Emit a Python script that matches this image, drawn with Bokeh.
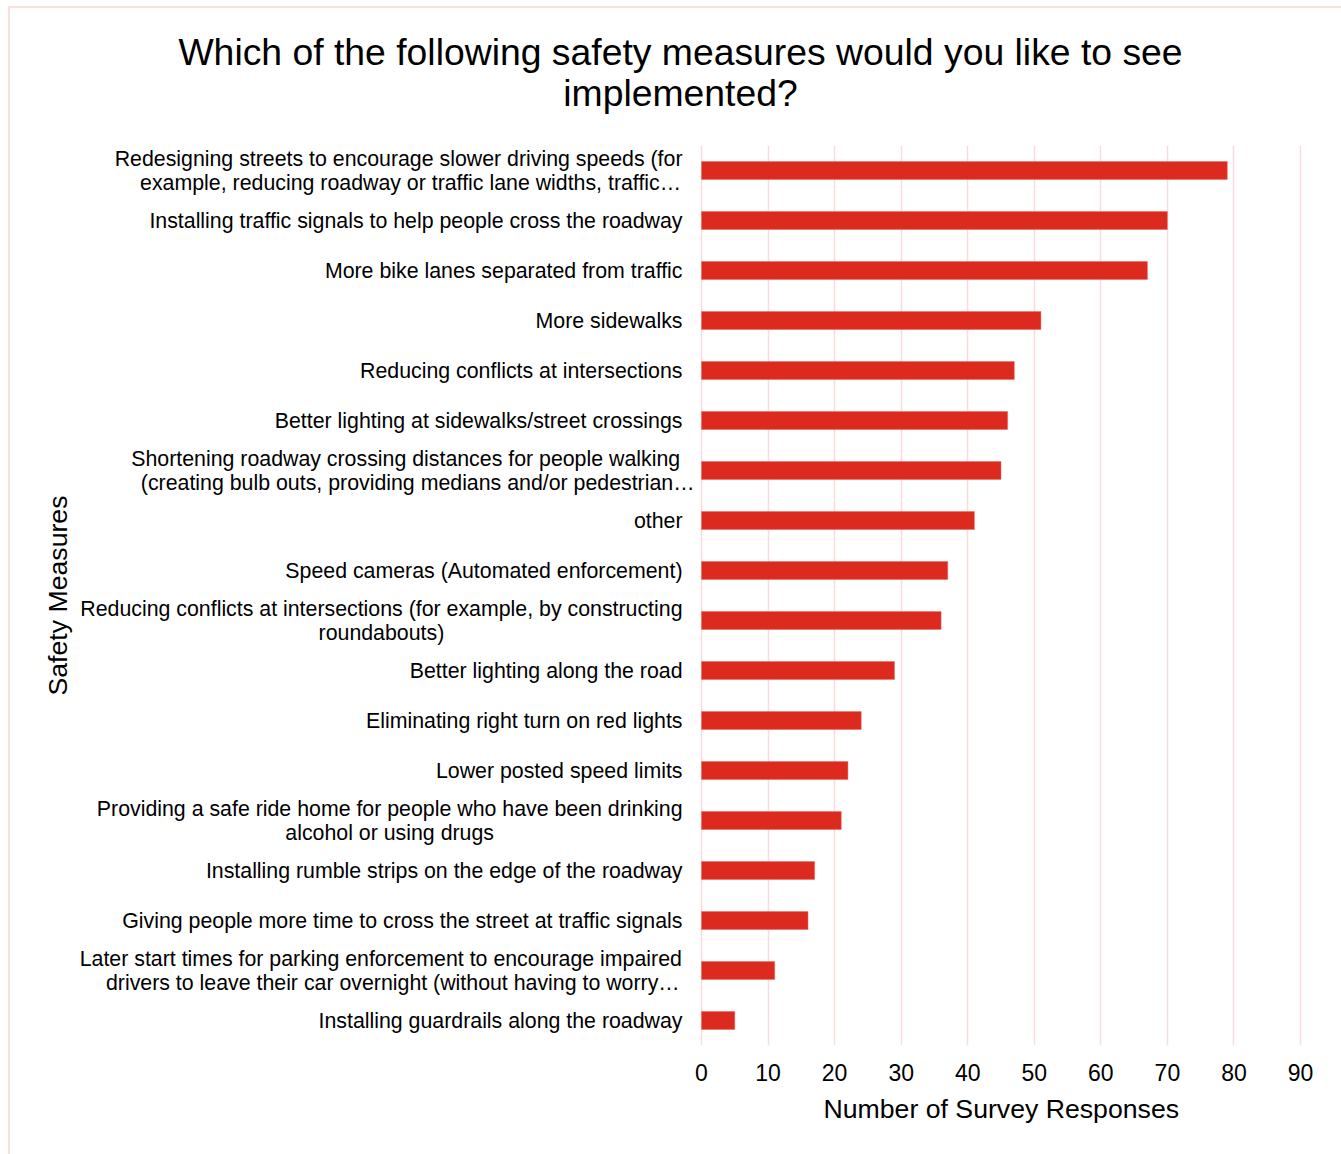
import math
from bokeh.plotting import figure
from bokeh.models import FactorRange, ColumnDataSource, Title
from bokeh.core.properties import value
from bokeh.embed import file_html
from bokeh.resources import INLINE

measures = [
    "Redesigning streets to encourage slower driving speeds (for\nexample, reducing roadway or traffic lane widths, traffic\u2026",
    "Installing traffic signals to help people cross the roadway",
    "More bike lanes separated from traffic",
    "More sidewalks",
    "Reducing conflicts at intersections",
    "Better lighting at sidewalks/street crossings",
    "Shortening roadway crossing distances for people walking\n(creating bulb outs, providing medians and/or pedestrian\u2026",
    "other",
    "Speed cameras (Automated enforcement)",
    "Reducing conflicts at intersections (for example, by constructing\nroundabouts)",
    "Better lighting along the road",
    "Eliminating right turn on red lights",
    "Lower posted speed limits",
    "Providing a safe ride home for people who have been drinking\nalcohol or using drugs",
    "Installing rumble strips on the edge of the roadway",
    "Giving people more time to cross the street at traffic signals",
    "Later start times for parking enforcement to encourage impaired\ndrivers to leave their car overnight (without having to worry\u2026",
    "Installing guardrails along the roadway",
]
responses = [79, 70, 67, 51, 47, 46, 45, 41, 37, 36, 29, 24, 22, 21, 17, 16, 11, 5]
x_ticks = [0, 10, 20, 30, 40, 50, 60, 70, 80, 90]

title_lines = ["Which of the following safety measures would you like to see", "implemented?"]
x_title = "Number of Survey Responses"
y_title = "Safety Measures"

FONT = "Liberation Sans"
LABEL_PX = 21.33

# Arial / Liberation Sans advance widths (per 1000 em) for label layout
_W = {" ": 278, "(": 333, ")": 333, ",": 278, ".": 278, "/": 278, "-": 333, "\u2026": 1000,
      "A": 667, "B": 667, "C": 722, "D": 722, "E": 667, "F": 611, "G": 778, "H": 722, "I": 278,
      "J": 500, "K": 667, "L": 611, "M": 833, "N": 722, "O": 778, "P": 667, "Q": 778, "R": 722,
      "S": 667, "T": 611, "U": 722, "V": 667, "W": 944, "X": 667, "Y": 667, "Z": 611,
      "a": 556, "b": 556, "c": 500, "d": 556, "e": 556, "f": 278, "g": 556, "h": 556, "i": 222,
      "j": 222, "k": 500, "l": 222, "m": 833, "n": 556, "o": 556, "p": 556, "q": 556, "r": 333,
      "s": 500, "t": 278, "u": 556, "v": 500, "w": 722, "x": 500, "y": 500, "z": 500}


def text_width(s, px):
    return sum(_W.get(c, 556) for c in s) * px / 1000.0


# geometry (canvas px; figure placed at window x=10, y=8)
FIG_W, FIG_H = 1331, 1146
FRAME_L, FRAME_R = 10, 1330
ZERO_X, NINETY_X = 691, 1290
k = (NINETY_X - ZERO_X) / 90.0
x_start = -(ZERO_X - FRAME_L) / k
x_end = (FRAME_R - ZERO_X) / k

src = ColumnDataSource(dict(measure=measures, n=responses))

p = figure(
    width=FIG_W, height=FIG_H,
    y_range=FactorRange(factors=list(reversed(measures)), range_padding=0),
    x_range=(x_start, x_end),
    y_axis_location=None,
    output_backend="svg", toolbar_location=None,
    min_border_left=FRAME_L, min_border_right=FIG_W - FRAME_R,
    min_border_top=137, min_border_bottom=109,
)
p.margin = (8, 0, 0, 10)
p.styles = {"outline": "2px solid #fbdede"}

p.hbar(y="measure", right="n", left=0, height=0.36, source=src,
       fill_color="#dc2a1f", line_color="#e66a63", line_width=0.5)

p.outline_line_color = None
p.ygrid.grid_line_color = None
p.xgrid.grid_line_color = "#f9dcdc"
p.xgrid.grid_line_width = 1.5
p.xaxis.ticker = x_ticks
p.xaxis.axis_line_color = None
p.xaxis.major_tick_line_color = None
p.xaxis.minor_tick_line_color = None
p.xaxis.major_label_text_font = FONT
p.xaxis.major_label_text_color = "black"
p.xaxis.major_label_text_font_size = "23px"
p.xaxis.major_label_standoff = 12

# category labels (drawn next to the bars, multi-line blocks centred)
lab = dict(y=[], text=[], xo=[], yo=[], align=[])
LINE_GAP = 24
for m in measures:
    lines = m.split("\n")
    if len(lines) == 1:
        lab["y"].append(m); lab["text"].append(m)
        lab["xo"].append(-19); lab["yo"].append(0); lab["align"].append("right")
    else:
        bw = max(text_width(s, LABEL_PX) for s in lines)
        for j, s in enumerate(lines):
            shift = 12 if s.endswith("\u2026") else 0
            lab["y"].append(m); lab["text"].append(s)
            lab["xo"].append(-19 - bw / 2 + shift)
            lab["yo"].append((j - (len(lines) - 1) / 2) * LINE_GAP)
            lab["align"].append("center")
lab["x"] = [0] * len(lab["y"])
p.text(x="x", y="y", text="text", x_offset="xo", y_offset="yo", text_align="align",
       text_baseline="middle", text_font=value(FONT), text_font_size=f"{LABEL_PX}px",
       text_color="black", source=ColumnDataSource(lab))

# vertical axis title
p.text(x=[0], y=[len(measures) / 2], text=[y_title], x_offset=57 - 701, angle=math.pi / 2,
       text_align="center", text_baseline="middle", text_font=value(FONT),
       text_font_size="26.67px", text_color="black")

# chart title: the added Title sits next to the plot (line 2), p.title above it (line 1)
p.title.text = title_lines[0]
p.title.align = "center"
p.title.vertical_align = "bottom"
p.title.standoff = -69
p.title.text_font = FONT
p.title.text_font_size = "37.33px"
p.title.text_font_style = "normal"
p.title.text_color = "black"
p.add_layout(Title(text=title_lines[1], align="center", vertical_align="bottom", standoff=63,
                   text_font=FONT, text_font_size="37.33px", text_font_style="normal",
                   text_color="black"), "above")

# horizontal axis title
p.add_layout(Title(text=x_title, align="left", offset=823 - 20, vertical_align="top",
                   text_font=FONT, text_font_size="26.67px", text_font_style="normal",
                   text_color="black", standoff=20), "below")

open("out.html", "w").write(file_html(p, INLINE))
